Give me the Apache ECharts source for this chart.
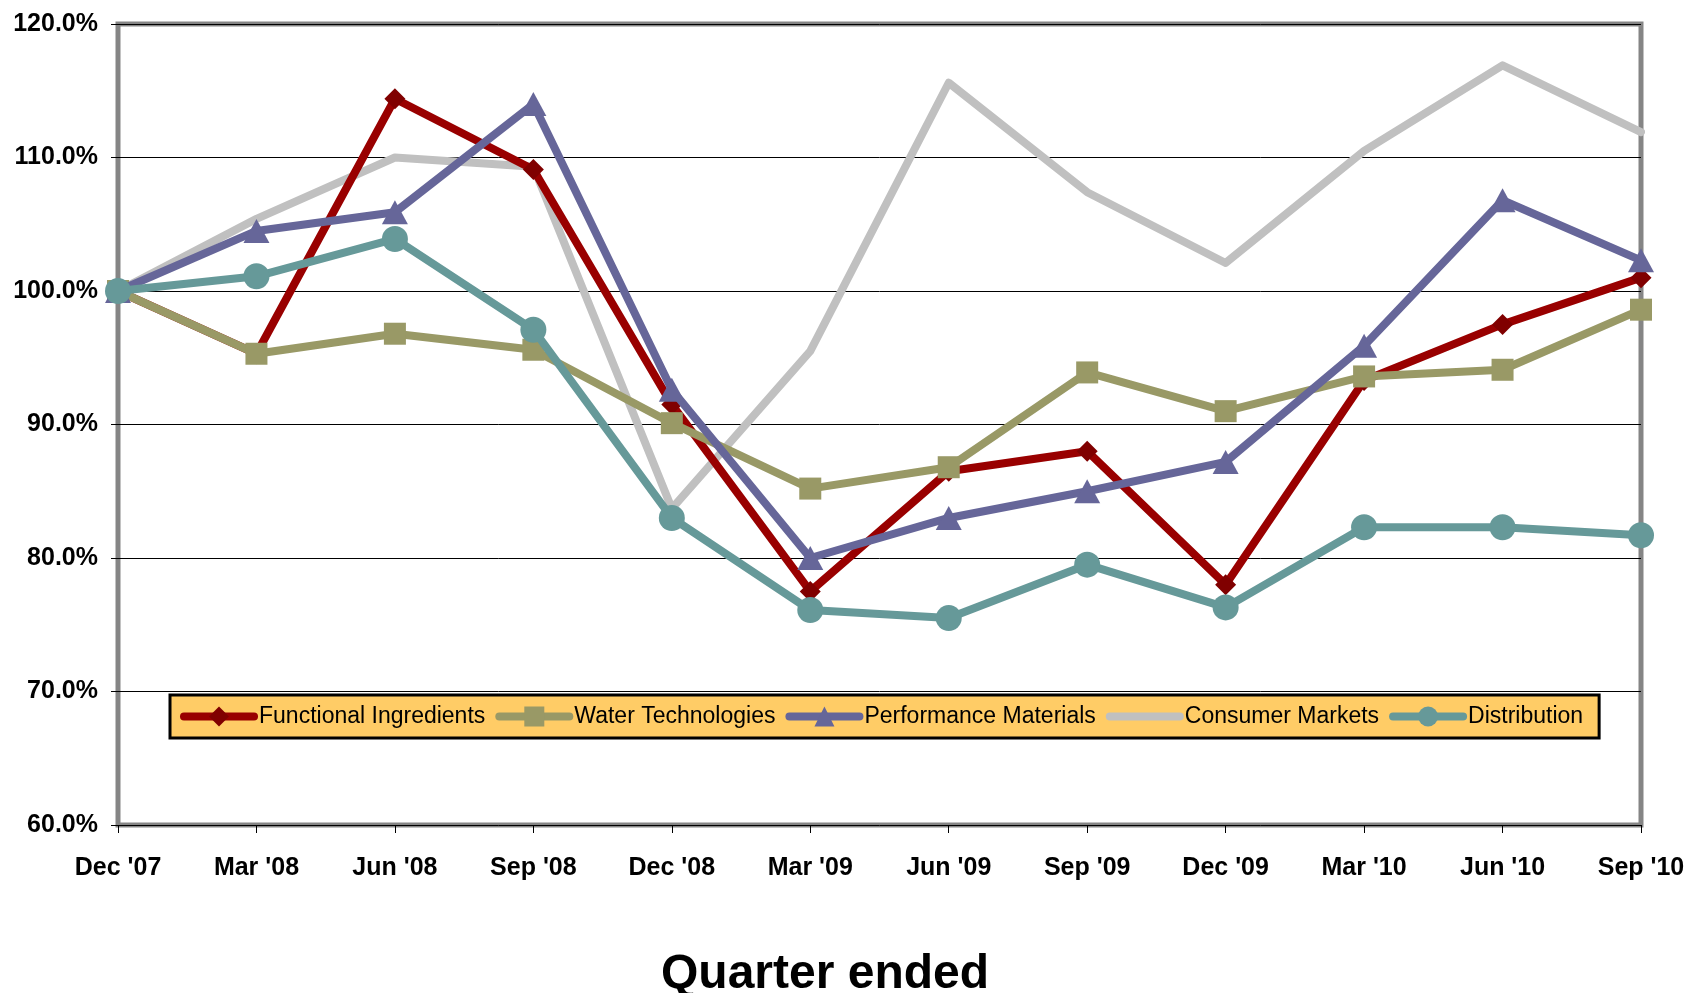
<!DOCTYPE html>
<html>
<head>
<meta charset="utf-8">
<title>Quarterly index by segment</title>
<script src="https://cdn.jsdelivr.net/npm/echarts@6/dist/echarts.min.js"></script>
<style>
  html, body { margin: 0; padding: 0; background: #ffffff; }
  #chart { width: 1691px; height: 993px; }
</style>
</head>
<body>
<div id="chart"></div>
<script>
// Quarter labels along the x axis
const quarters = ["Dec '07", "Mar '08", "Jun '08", "Sep '08", "Dec '08", "Mar '09",
                  "Jun '09", "Sep '09", "Dec '09", "Mar '10", "Jun '10", "Sep '10"];

// Segment values, indexed to Dec '07 = 100%
const functionalIngredients = [100.0, 95.3, 114.4, 109.1, 91.5, 77.5, 86.5, 88.0, 78.0, 93.3, 97.5, 101.0];
const waterTechnologies     = [100.0, 95.3, 96.8, 95.6, 90.1, 85.2, 86.8, 93.9, 91.0, 93.6, 94.1, 98.6];
const performanceMaterials  = [100.0, 104.5, 105.9, 114.0, 92.6, 80.0, 83.0, 85.0, 87.2, 95.9, 106.8, 102.3];
const consumerMarkets       = [100.0, 105.4, 110.0, 109.3, 83.7, 95.5, 115.6, 107.4, 102.1, 110.5, 116.9, 111.9];
const distribution          = [100.0, 101.1, 103.9, 97.1, 83.0, 76.1, 75.5, 79.5, 76.3, 82.3, 82.3, 81.7];

// Segment names in legend order
const segmentNames = ["Functional Ingredients", "Water Technologies", "Performance Materials",
                      "Consumer Markets", "Distribution"];

// Y-axis range (percent)
const yMin = 60, yMax = 120, yStep = 10;

// Pick a condensed face when available, otherwise shrink the regular one
function hasFont(name) {
  const ctx = document.createElement('canvas').getContext('2d');
  const probe = 'Functional Ingredients 0123456789%';
  ctx.font = '40px monospace';
  const a = ctx.measureText(probe).width;
  ctx.font = '40px "' + name + '", monospace';
  const b = ctx.measureText(probe).width;
  return Math.abs(a - b) > 0.5;
}
const narrowOK = hasFont('Liberation Sans Narrow');
const narrowFamily = narrowOK ? '"Liberation Sans Narrow", "Arial Narrow", sans-serif'
                              : '"Liberation Sans", Arial, sans-serif';
const k = narrowOK ? 1 : 0.82;

const chart = echarts.init(document.getElementById('chart'), null, { renderer: 'canvas' });

const LW = 8;
function lineSeries(name, data, color, symbol, symbolSize, symbolColor, z) {
  return {
    name: name,
    type: 'line',
    data: data,
    z: z,
    symbol: symbol,
    symbolSize: symbolSize,
    showSymbol: symbol !== 'none',
    lineStyle: { color: color, width: LW, cap: 'round', join: 'round' },
    itemStyle: { color: symbolColor || color, borderWidth: 0 },
    emphasis: { disabled: true },
    animation: false
  };
}

// Legend entries; the marker-less series shows only its line
const legendItems = segmentNames.map(function (n) {
  return n === 'Consumer Markets'
    ? { name: n, itemStyle: { opacity: 0 } }
    : { name: n };
});

const option = {
  backgroundColor: '#ffffff',
  animation: false,
  grid: {
    left: 118, right: 50, top: 24, bottom: 168,
    show: true,
    borderColor: '#858585',
    borderWidth: 5,
    backgroundColor: 'transparent'
  },
  legend: {
    data: legendItems,
    left: 170,
    top: 695,
    orient: 'horizontal',
    backgroundColor: '#FFCC66',
    borderColor: '#000000',
    borderWidth: 3,
    padding: [10, 16, 10, 10],
    itemWidth: 70,
    itemHeight: 25,
    itemGap: 10,
    selectedMode: false,
    lineStyle: { width: 8, cap: 'round' },
    textStyle: {
      fontFamily: narrowFamily,
      fontSize: Math.round(28 * k),
      color: '#000000'
    }
  },
  xAxis: {
    type: 'category',
    data: quarters,
    boundaryGap: false,
    axisLine: { show: false },
    axisTick: { show: true, length: 8, lineStyle: { color: '#000000', width: 1 } },
    axisLabel: {
      margin: 31,
      fontFamily: narrowFamily,
      fontSize: Math.round(30 * k),
      fontWeight: 'bold',
      color: '#000000'
    },
    splitLine: { show: false }
  },
  yAxis: {
    type: 'value',
    min: yMin,
    max: yMax,
    interval: yStep,
    axisLine: { show: false },
    axisTick: { show: true, length: 7, lineStyle: { color: '#000000', width: 1 } },
    axisLabel: {
      margin: 20,
      fontFamily: narrowFamily,
      fontSize: Math.round(30 * k),
      fontWeight: 'bold',
      color: '#000000',
      formatter: function (v) { return v.toFixed(1) + '%'; }
    },
    splitLine: { show: true, lineStyle: { color: '#000000', width: 1 } }
  },
  graphic: [{
    type: 'text',
    left: 826 - 165,
    top: 951,
    style: {
      text: 'Quarter ended',
      fontFamily: '"Liberation Sans", Arial, sans-serif',
      fontWeight: 'bold',
      fontSize: 48,
      fill: '#000000'
    }
  }],
  series: [
    lineSeries(segmentNames[3], consumerMarkets, '#C0C0C0', 'none', 0, null, 2),
    lineSeries(segmentNames[0], functionalIngredients, '#990000', 'diamond', 21, '#800000', 3),
    lineSeries(segmentNames[1], waterTechnologies, '#999966', 'rect', 22, '#999966', 4),
    lineSeries(segmentNames[2], performanceMaterials, '#666699', 'triangle', [26, 24], '#666699', 5),
    lineSeries(segmentNames[4], distribution, '#669999', 'circle', 26, '#669999', 6)
  ]
};

chart.setOption(option);
</script>
</body>
</html>
